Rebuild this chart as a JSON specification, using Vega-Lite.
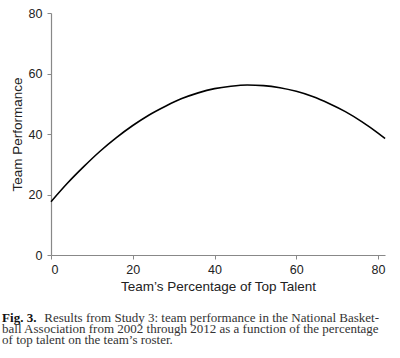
{
  "$schema": "https://vega.github.io/schema/vega-lite/v6.json",
  "width": 334,
  "height": 242,
  "autosize": {"type": "none"},
  "padding": {"left": 51, "top": 13, "right": 15, "bottom": 103},
  "background": "white",
  "config": {
    "view": {"stroke": null},
    "axis": {
      "grid": false,
      "domainColor": "#888888",
      "domainWidth": 1.2,
      "tickColor": "#888888",
      "tickSize": 4,
      "labelFont": "Liberation Sans",
      "labelFontSize": 12.5,
      "labelColor": "#222222",
      "titleFont": "Liberation Sans",
      "titleFontSize": 13.5,
      "titleFontWeight": "normal",
      "titleColor": "#222222"
    }
  },
  "title": {
    "text": "Fig. 3.",
    "subtitle": [
      "\u200b\u00a0\u00a0\u00a0\u00a0\u00a0\u00a0\u00a0\u00a0\u00a0\u00a0\u00a0\u00a0\u00a0Results from Study 3: team performance in the National Basket-",
      "ball Association from 2002 through 2012 as a function of the percentage",
      "of top talent on the team\u2019s roster."
    ],
    "orient": "bottom",
    "anchor": "start",
    "frame": "bounds",
    "offset": 19,
    "font": "Liberation Serif",
    "fontSize": 13,
    "fontWeight": "bold",
    "color": "#111111",
    "subtitleFont": "Liberation Serif",
    "subtitleFontSize": 13,
    "subtitleColor": "#333333",
    "subtitleLineHeight": 11,
    "subtitlePadding": -13,
    "dx": -8
  },
  "data": {
    "values": [
      {"x": 0, "y": 17.6},
      {"x": 4, "y": 23.7},
      {"x": 8, "y": 29.2},
      {"x": 12, "y": 34.3},
      {"x": 16, "y": 38.8},
      {"x": 20, "y": 42.8},
      {"x": 24, "y": 46.3},
      {"x": 28, "y": 49.2},
      {"x": 32, "y": 51.7},
      {"x": 36, "y": 53.6},
      {"x": 40, "y": 55.0},
      {"x": 44, "y": 55.8},
      {"x": 48, "y": 56.2},
      {"x": 52, "y": 56.0},
      {"x": 56, "y": 55.3},
      {"x": 60, "y": 54.1},
      {"x": 64, "y": 52.4},
      {"x": 68, "y": 50.1},
      {"x": 72, "y": 47.4},
      {"x": 76, "y": 44.1},
      {"x": 80, "y": 40.3},
      {"x": 81.7, "y": 38.5}
    ]
  },
  "mark": {"type": "line", "color": "#000000", "strokeWidth": 1.6, "interpolate": "monotone"},
  "encoding": {
    "x": {
      "field": "x",
      "type": "quantitative",
      "scale": {"domain": [0, 81.7], "nice": false},
      "axis": {"values": [0, 20, 40, 60, 80], "title": "Team\u2019s Percentage of Top Talent", "labelPadding": 4, "titlePadding": 4}
    },
    "y": {
      "field": "y",
      "type": "quantitative",
      "scale": {"domain": [0, 80], "nice": false},
      "axis": {"values": [0, 20, 40, 60, 80], "title": "Team Performance", "labelPadding": 5, "titlePadding": 4}
    }
  }
}
